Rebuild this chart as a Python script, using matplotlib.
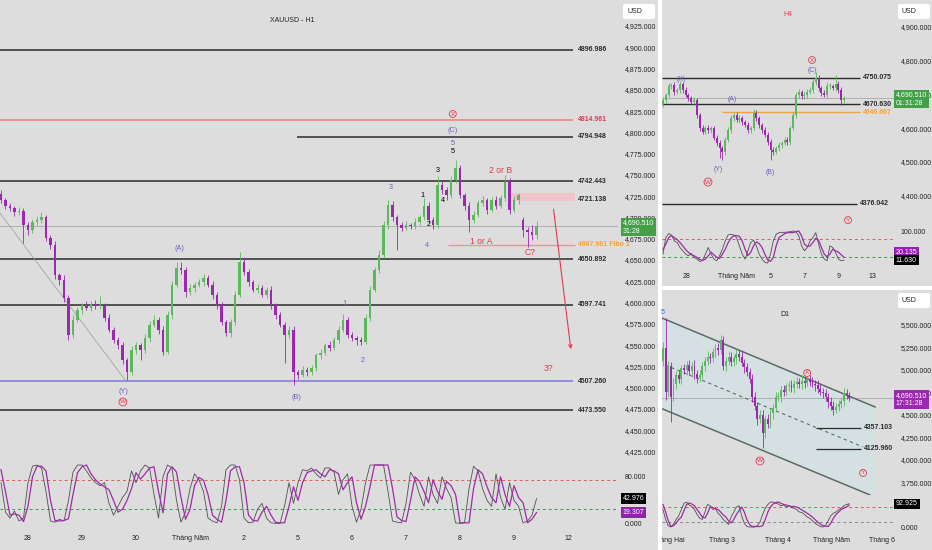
import numpy as np
import matplotlib
matplotlib.use("Agg")
import matplotlib.pyplot as plt
from matplotlib.patches import Rectangle, FancyBboxPatch
from matplotlib.transforms import (blended_transform_factory, Bbox, TransformedBbox,
                                   ScaledTranslation)
from matplotlib.ticker import FuncFormatter

plt.rcParams['font.family'] = ['Liberation Sans', 'DejaVu Sans']

# ---------------- data: H1 (main) ----------------
h1_open0 = 4728
h1_close = np.array([
    4720, 4714, 4711, 4706, 4708, 4691, 4685, 4695, 4697, 4700,
    4676, 4668, 4632, 4627, 4605, 4562, 4580, 4591, 4597, 4594,
    4598, 4596, 4597, 4582, 4568, 4556, 4550, 4532, 4518, 4544,
    4550, 4544, 4558, 4574, 4580, 4568, 4542, 4585, 4621, 4641,
    4638, 4612, 4617, 4621, 4624, 4629, 4621, 4609, 4597, 4577,
    4564, 4577, 4609, 4648, 4636, 4624, 4615, 4617, 4609, 4615,
    4597, 4585, 4574, 4562, 4568, 4518, 4515, 4521, 4518, 4523,
    4538, 4541, 4550, 4547, 4556, 4568, 4580, 4562, 4558, 4556,
    4554, 4582, 4615, 4638, 4656, 4691, 4715, 4700, 4691, 4688,
    4691, 4690, 4695, 4700, 4714, 4697, 4691, 4738, 4732, 4726,
    4744, 4758, 4726, 4714, 4697, 4703, 4717, 4720, 4709, 4720,
    4714, 4723, 4742, 4709, 4720, 4726, 4685, 4683, 4679, 4690.51])
h1_wick_up = np.array([
    4, 3, 3, 2, 4, 3, 4, 3, 5, 6, 3, 3, 4, 3, 5, 4, 5, 4, 3, 5,
    4, 5, 11, 3, 4, 3, 3, 4, 3, 5, 4, 3, 5, 4, 5, 3, 4, 5, 4, 7,
    7, 4, 5, 3, 4, 5, 3, 4, 3, 4, 3, 4, 5, 11, 5, 4, 3, 5, 4, 3,
    4, 3, 4, 3, 5, 4, 3, 4, 3, 4, 3, 4, 3, 5, 4, 5, 7, 3, 4, 3,
    3, 4, 5, 4, 6, 5, 5, 4, 3, 4, 5, 3, 4, 3, 9, 4, 3, 11, 5, 4,
    5, 10, 4, 3, 4, 5, 4, 5, 3, 4, 5, 4, 8, 4, 5, 3, 3, 4, 8, 5])
h1_wick_dn = np.array([
    3, 4, 3, 4, 3, 21, 5, 3, 4, 3, 4, 5, 4, 6, 4, 6, 4, 3, 4, 3,
    4, 3, 3, 4, 3, 4, 5, 4, 9, 3, 4, 12, 3, 4, 3, 5, 4, 3, 4, 3,
    4, 5, 3, 4, 3, 4, 3, 5, 4, 3, 3, 4, 3, 3, 4, 5, 3, 4, 3, 4,
    5, 4, 3, 33, 4, 15, 5, 3, 4, 3, 3, 4, 3, 4, 3, 4, 3, 4, 3, 6,
    4, 3, 4, 3, 3, 4, 5, 4, 29, 4, 3, 4, 3, 4, 3, 4, 5, 3, 4, 5,
    3, 4, 3, 5, 14, 4, 3, 4, 5, 3, 4, 3, 4, 5, 3, 4, 8, 18, 6, 4])
h1_gap_open = {116: 4697}
h1_stoch_k = [
    70, 20, 10, 22, 5, 10, 70, 98, 100, 95, 55, 5, 3, 8, 5, 40, 88, 100, 100, 90,
    78, 70, 65, 70, 35, 15, 30, 45, 55, 90, 70, 90, 100, 95, 50, 10, 80, 100, 95, 40,
    3, 20, 60, 85, 75, 55, 10, 5, 2, 30, 92, 100, 100, 75, 10, 2, 3, 25, 35, 10,
    2, 1, 1, 30, 70, 35, 70, 92, 90, 95, 85, 78, 95, 95, 88, 50, 75, 85, 30, 3,
    25, 70, 100, 100, 100, 100, 55, 5, 3, 2, 35, 88, 75, 50, 30, 80, 50, 35, 80, 60,
    45, 2, 1, 2, 60, 98, 90, 60, 40, 30, 85, 45, 25, 70, 40, 30, 2, 5, 15, 42.976]
h1_stoch_d = [
    92, 55, 15, 17, 15, 4, 30, 80, 98, 98, 90, 40, 6, 5, 6, 9, 50, 87, 97, 100,
    85, 75, 68, 63, 58, 40, 20, 25, 40, 60, 87, 76, 85, 95, 97, 55, 19, 85, 97, 88,
    45, 8, 25, 65, 79, 74, 50, 15, 8, 3, 40, 90, 97, 97, 70, 15, 6, 5, 20, 30,
    15, 3, 2, 2, 30, 63, 40, 70, 87, 90, 92, 85, 80, 92, 90, 85, 58, 70, 80, 36,
    8, 30, 63, 100, 100, 100, 100, 60, 12, 6, 4, 40, 80, 72, 55, 36, 75, 55, 42, 72,
    65, 50, 2, 2, 2, 60, 92, 85, 63, 45, 36, 80, 50, 30, 65, 45, 36, 2, 8, 19.307]
h1_day_pos = [6, 18, 30, 42, 54, 66, 78, 90, 102, 114, 126]
h1_day_lbl = ['28', '29', '30', 'Tháng Năm', '2', '5', '6', '7', '8', '9', '12']
h1_levels = [4896.986, 4814.961, 4794.948, 4742.443, 4650.892, 4597.741, 4507.260, 4473.550]
h1_level_start = [0, 0, 66, 0, 0, 0, 0, 0]
fibo_level = 4667.981
zone_hi, zone_lo = 4729, 4719
trend_x = [-0.2, 27.6]
trend_y = [4705, 4509]
arrow_from = (122.7, 4713)
arrow_to = (126.7, 4542)

# ---------------- data: H4 ----------------
h4_open0 = 4670
h4_close = np.array([
    4683, 4698, 4725, 4728, 4707, 4713, 4731, 4713, 4698, 4689,
    4677, 4683, 4639, 4600, 4589, 4600, 4594, 4600, 4571, 4556,
    4541, 4529, 4565, 4594, 4630, 4639, 4624, 4630, 4618, 4609,
    4594, 4600, 4645, 4630, 4609, 4594, 4580, 4559, 4535, 4529,
    4541, 4550, 4556, 4565, 4559, 4600, 4639, 4698, 4707, 4695,
    4698, 4707, 4713, 4737, 4749, 4719, 4704, 4698, 4725, 4725,
    4719, 4731, 4713, 4683, 4690.51])
h4_wick_up = np.array([
    8, 6, 10, 6, 8, 7, 9, 6, 8, 7, 6, 8, 7, 6, 9, 7, 8, 6, 7, 9,
    8, 7, 9, 8, 10, 7, 8, 9, 6, 7, 8, 7, 12, 8, 7, 6, 8, 7, 9, 8,
    7, 8, 6, 9, 8, 7, 8, 10, 8, 7, 9, 8, 10, 9, 17, 8, 7, 9, 12, 8,
    7, 26, 8, 10, 6])
h4_wick_dn = np.array([
    7, 8, 6, 9, 8, 7, 8, 9, 6, 8, 7, 9, 8, 10, 8, 7, 9, 8, 7, 8,
    30, 24, 8, 7, 9, 8, 7, 8, 9, 7, 8, 9, 7, 8, 9, 8, 7, 9, 30, 8,
    7, 9, 8, 7, 9, 8, 7, 9, 8, 10, 8, 9, 7, 8, 9, 10, 8, 7, 9, 8,
    7, 8, 9, 14, 8])
h4_stoch_k = [
    30, 80, 92, 88, 70, 65, 50, 40, 30, 25, 32, 20, 15, 8, 10, 30, 50, 30, 15, 10,
    25, 45, 70, 88, 90, 88, 80, 55, 30, 15, 40, 65, 72, 55, 30, 15, 5, 3, 30, 70,
    90, 95, 96, 96, 97, 98, 100, 98, 85, 55, 40, 50, 70, 80, 95, 60, 30, 15, 10, 55,
    50, 35, 15, 10, 11.63]
h4_stoch_d = [
    44, 60, 80, 86, 80, 74, 65, 55, 44, 35, 28, 25, 20, 14, 11, 15, 25, 36, 28, 20,
    17, 30, 45, 64, 78, 86, 86, 84, 70, 45, 25, 35, 55, 67, 62, 50, 30, 12, 8, 20,
    55, 80, 86, 92, 95, 95, 95, 98, 100, 85, 60, 53, 55, 65, 78, 72, 50, 30, 22, 30,
    45, 40, 36, 28, 20.135]
h4_day_pos = [8.5, 26, 38, 50, 62, 74]
h4_day_lbl = ['28', 'Tháng Năm', '5', '7', '9', '13']
h4_levels = [4750.075, 4670.630, 4376.042]
h4_level_end = [69.6, 69.6, 68.6]
h4_fibo = 4646.667

# ---------------- data: D1 ----------------
d1_open0 = 5100
d1_close = np.array([
    5250, 4750, 5050, 4700, 4850, 4950, 4900, 5020, 5000, 5060,
    4990, 5050, 4960, 4910, 4950, 5050, 5100, 5150, 5130, 5200,
    5250, 5220, 5330, 5050, 5100, 5150, 5090, 5130, 5180, 5150,
    5080, 5030, 4980, 4900, 4700, 4600, 4450, 4500, 4300, 4450,
    4400, 4520, 4580, 4700, 4700, 4780, 4760, 4820, 4830, 4800,
    4850, 4870, 4840, 4880, 4860, 4900, 4870, 4850, 4830, 4790,
    4760, 4740, 4700, 4640, 4600, 4560, 4590, 4620, 4650, 4740,
    4720, 4690.51])
d1_wick_up = np.array([
    60, 330, 50, 40, 60, 40, 50, 40, 50, 40, 50, 40, 60, 40, 50, 40, 50, 60, 40, 50,
    40, 50, 60, 50, 40, 60, 50, 40, 50, 40, 60, 40, 50, 40, 60, 50, 40, 60, 50, 40,
    60, 50, 40, 50, 60, 40, 50, 40, 50, 60, 40, 50, 40, 60, 50, 30, 40, 50, 40, 60,
    50, 40, 50, 40, 60, 50, 40, 50, 40, 60, 50, 30])
d1_wick_dn = np.array([
    50, 80, 40, 280, 50, 60, 40, 50, 40, 60, 50, 40, 60, 50, 40, 50, 60, 40, 50, 40,
    60, 50, 40, 50, 60, 40, 50, 40, 60, 50, 40, 60, 50, 40, 60, 50, 60, 40, 167, 60,
    50, 40, 60, 50, 40, 60, 50, 40, 50, 40, 60, 50, 40, 50, 60, 40, 50, 40, 60, 50,
    40, 50, 40, 60, 50, 60, 40, 50, 40, 50, 40, 40])
d1_stoch_k = [
    70, 30, 5, 0, 12, 30, 45, 70, 95, 100, 88, 82, 70, 50, 35, 30, 60, 90, 85, 70,
    75, 55, 45, 30, 20, 10, 40, 60, 80, 85, 45, 15, 2, 0, 0, 0, 5, 20, 50, 75,
    90, 100, 100, 95, 92, 85, 88, 80, 85, 78, 75, 70, 60, 58, 50, 40, 35, 25, 15, 8,
    2, 0, 5, 25, 45, 55, 60, 70, 75, 85, 90, 92.925]
d1_stoch_d = [
    90, 60, 25, 2, 5, 15, 30, 40, 65, 90, 96, 92, 85, 70, 55, 40, 36, 55, 80, 78,
    72, 70, 60, 48, 40, 25, 16, 30, 50, 65, 80, 60, 30, 10, 2, 2, 2, 2, 5, 30,
    60, 80, 92, 98, 100, 95, 90, 88, 85, 82, 82, 80, 75, 68, 62, 55, 48, 40, 30, 20,
    12, 6, 3, 2, 15, 35, 50, 60, 70, 75, 80, 88]
d1_month_pos = [1.9, 22.5, 43.9, 64.1, 83.6]
d1_month_lbl = ['Tháng Hai', 'Tháng 3', 'Tháng 4', 'Tháng Năm', 'Tháng 6']
chan_upper_x, chan_upper_y = [-0.4, 80.9], [5578, 4589]
chan_lower_x, chan_lower_y = [-0.4, 79.0], [4570, 3611]
chan_mid_x, chan_mid_y = [0.8, 76.3], [5056, 4145]
d1_levels = [4357.103, 4125.960]

LAST = 4690.51

# ---------------- styling ----------------
W, H = 932, 550
BG = '#dddddd'
UP = '#5cb85c'
DOWN = '#9c27b0'
RED = '#e53950'
WAVE = '#6a5fc1'
ORANGE = '#f5a340'
DARK = '#2b2b2b'

fig = plt.figure(figsize=(W / 100, H / 100), dpi=100, facecolor='white')


def panel(l, t, r, b):
    fig.patches.append(Rectangle((l / W, 1 - b / H), (r - l) / W, (b - t) / H,
                                 transform=fig.transFigure, facecolor=BG,
                                 edgecolor='none', zorder=-10))


def px_axes(l, t, r, b):
    ax = fig.add_axes([l / W, 1 - b / H, (r - l) / W, (b - t) / H])
    ax.set_facecolor('none')
    for s in ax.spines.values():
        s.set_visible(False)
    ax.yaxis.tick_right()
    ax.tick_params(length=0, labelsize=5, colors='#222222')
    return ax


def ftxt(x, y, s, **kw):
    fig.text(x / W, 1 - y / H, s, **kw)


def candles(ax, closes, open0, wu, wd, width, gaps=None):
    x = np.arange(len(closes))
    opens = np.concatenate([[open0], closes[:-1]]).astype(float)
    if gaps:
        for k, v in gaps.items():
            opens[k] = v
    highs = np.maximum(opens, closes) + wu
    lows = np.minimum(opens, closes) - wd
    cols = np.where(closes >= opens, UP, DOWN)
    ax.vlines(x, lows, highs, colors=cols, lw=0.6, zorder=3)
    span = ax.get_ylim()[1] - ax.get_ylim()[0]
    hgt = np.maximum(np.abs(closes - opens), span * 0.003)
    ax.bar(x, hgt, bottom=np.minimum(opens, closes), width=width, color=cols,
           linewidth=0, zorder=4)


def stoch(ax, k, d, lv_hi, lv_lo, lo_col):
    x = np.arange(len(k))
    ax.axhline(lv_hi, color='#e05a5a', lw=0.7, ls=(0, (3, 3)))
    ax.axhline(lv_lo, color=lo_col, lw=0.7, ls=(0, (3, 3)))
    ax.plot(x, k, color='#505050', lw=0.6, zorder=3)
    ax.plot(x, d, color='#a02aa8', lw=0.9, zorder=4)


def circled(ax, x, y, s):
    ax.text(x, y, s, color=RED, fontsize=4.6, ha='center', va='center', zorder=6,
            bbox=dict(boxstyle='circle,pad=0.15', fc='none', ec=RED, lw=0.6))


def side_box(ax, y, s, fc, xfrac, tc='white', fs=5, two_line=False):
    tr = blended_transform_factory(ax.transAxes, ax.transData)
    va = 'center'
    if two_line:
        # first line of a two-line price tag sits on the price
        tr = tr + ScaledTranslation(0, 4.5 / 72, fig.dpi_scale_trans)
        va = 'top'
    ax.text(xfrac, y, s, transform=tr, ha='left', va=va, color=tc, fontsize=fs,
            clip_on=False, zorder=10, linespacing=1.25,
            bbox=dict(boxstyle='square,pad=0.25', fc=fc, ec='none'))


def usd(l, t, r, b):
    fig.patches.append(FancyBboxPatch((l / W, 1 - b / H), (r - l) / W, (b - t) / H,
                                      boxstyle='round,pad=0,rounding_size=0.003',
                                      transform=fig.transFigure, fc='white', ec='none',
                                      zorder=5))
    ftxt(l + 4, (t + b) / 2, 'USD', fontsize=5, ha='left', va='center', color='#222222',
         zorder=6)


price_fmt = FuncFormatter(lambda v, p: f'{v:,.3f}')

panel(0, 0, 658, 550)
panel(662, 0, 932, 286)
panel(662, 290, 932, 550)

# ================= main H1 =================
ax = px_axes(0, 0, 618, 460)
ax.set_xlim(-0.22, 137.1)
ax.set_ylim(4415, 4955.6)
ax.set_yticks(np.arange(4425, 4926, 25))
ax.yaxis.set_major_formatter(price_fmt)
ax.tick_params(axis='y', pad=5)
ax.set_xticks([])
ax.axhline(LAST, color='#a8a8a8', lw=0.6, zorder=1)
for lv, st in zip(h1_levels, h1_level_start):
    col = DARK
    if lv == 4814.961:
        col = '#ef7d7d'
    elif lv == 4507.260:
        col = '#7c76d6'
    ax.hlines(lv, st - 0.3, 127.2, color=col, lw=1.1, zorder=2)
    ax.text(128.2, lv, f'{lv:.3f}', fontsize=5, fontweight='bold',
            color=RED if lv == 4814.961 else DARK, va='center', ha='left')
ax.hlines(fibo_level, 99.3, 127.5, color=ORANGE, lw=1.0, zorder=2)
ax.text(128.2, fibo_level, f'{fibo_level:.3f} Fibo 1', fontsize=5, fontweight='bold',
        color=ORANGE, va='center', ha='left')
ax.add_patch(Rectangle((113.6, zone_lo), 14, zone_hi - zone_lo, fc='#f0c2c6', ec='none',
                       alpha=0.9, zorder=2))
ax.text(128.2, 4721.138, '4721.138', fontsize=5, fontweight='bold', color=DARK,
        va='center', ha='left')
ax.plot(trend_x, trend_y, color='#9a9a9a', lw=0.5, zorder=2)
candles(ax, h1_close, h1_open0, h1_wick_up, h1_wick_dn, 0.6, h1_gap_open)
ax.annotate('', xy=arrow_to, xytext=arrow_from, zorder=5,
            arrowprops=dict(arrowstyle='->', color=RED, lw=0.8, mutation_scale=6))

wave_txt = [
    (100.4, 4802.8, '(C)', WAVE), (100.4, 4787.5, '5', WAVE), (100.4, 4777, '5', 'black'),
    (97.1, 4755.8, '3', 'black'), (86.7, 4734.7, '3', WAVE), (93.6, 4726.4, '1', 'black'),
    (95.1, 4691.2, '2', 'black'), (98.2, 4719.4, '4', 'black'), (94.7, 4666.5, '4', WAVE),
    (39.6, 4663, '(A)', WAVE), (27.1, 4495, '(Y)', WAVE), (65.6, 4489, '(B)', WAVE),
    (76.4, 4598.4, '1', WAVE), (80.4, 4532.5, '2', WAVE)]
for x, y, s, c in wave_txt:
    ax.text(x, y, s, color=c, fontsize=5.2, ha='center', va='center', zorder=6)
for x, y, s in [(111.1, 4755.8, '2 or B'), (106.7, 4671.2, '1 or A'),
                (117.6, 4658.3, 'C?'), (121.6, 4523, '3?')]:
    ax.text(x, y, s, color=RED, fontsize=6.2, ha='center', va='center', zorder=6)
circled(ax, 100.4, 4821.6, 'X')
circled(ax, 27.1, 4483.2, 'W')
side_box(ax, LAST, '4,690.510\n31:28', '#43a047', 1.008, two_line=True)
ftxt(292, 20, 'XAUUSD - H1', fontsize=5, ha='center', va='center', color='#222222')
usd(623, 4, 655, 19)

axs = px_axes(0, 460, 618, 532)
axs.set_xlim(-0.22, 137.1)
axs.set_ylim(-13.6, 108.5)
stoch(axs, h1_stoch_k, h1_stoch_d, 75, 25, '#3e9a52')
axs.set_yticks([80, 0])
axs.yaxis.set_major_formatter(FuncFormatter(lambda v, p: f'{v:.3f}'))
axs.tick_params(axis='y', pad=5)
axs.set_xticks(h1_day_pos)
axs.set_xticklabels(h1_day_lbl)
axs.tick_params(axis='x', pad=2.5, labelsize=5)
side_box(axs, h1_stoch_k[-1], f'{h1_stoch_k[-1]:.3f}', 'black', 1.008)
side_box(axs, h1_stoch_d[-1], f'{h1_stoch_d[-1]:.3f}', '#8e24aa', 1.008)

# ================= H4 =================
a4 = px_axes(662, 0, 895, 225)
a4.set_xlim(-0.35, 82.0)
a4.set_ylim(4312.5, 4980)
a4.set_yticks([4400, 4500, 4600, 4700, 4800, 4900])
a4.yaxis.set_major_formatter(price_fmt)
a4.tick_params(axis='y', pad=4)
a4.set_xticks([])
a4.axhline(LAST, color='#a8a8a8', lw=0.6, zorder=1)
for lv, en in zip(h4_levels, h4_level_end):
    a4.hlines(lv, -0.35, en, color=DARK, lw=1.0, zorder=2)
    a4.text(en + 1.0, lv, f'{lv:.3f}', fontsize=5, fontweight='bold', color=DARK,
            va='center', ha='left')
a4.hlines(h4_fibo, 20.8, 69.6, color=ORANGE, lw=1.0, zorder=2)
a4.text(70.6, h4_fibo, f'{h4_fibo:.3f}', fontsize=5, fontweight='bold', color=ORANGE,
        va='center', ha='left')
candles(a4, h4_close, h4_open0, h4_wick_up, h4_wick_dn, 0.7)
for x, y, s in [(52.7, 4769.5, '(C)'), (6.4, 4742.7, '(X)'), (24.4, 4683.4, '(A)'),
                (19.4, 4475.7, '(Y)'), (37.8, 4466.8, '(B)')]:
    a4.text(x, y, s, color=WAVE, fontsize=5, ha='center', va='center', zorder=6)
circled(a4, 52.7, 4802, 'X')
circled(a4, 15.9, 4440, 'W')
circled(a4, 65.4, 4327, 'Y')
side_box(a4, LAST, '4,690.510\n01:31:28', '#43a047', 1.004, two_line=True)
ftxt(788, 15, 'H4', fontsize=5, ha='center', va='center', color=RED)
usd(898, 4, 930, 19)

a4s = px_axes(662, 225, 895, 272)
a4s.set_xlim(-0.35, 82.0)
a4s.set_ylim(-24.2, 118.2)
stoch(a4s, h4_stoch_k, h4_stoch_d, 75, 20, '#3e9a52')
a4s.set_yticks([100])
a4s.yaxis.set_major_formatter(FuncFormatter(lambda v, p: f'{v:.3f}'))
a4s.tick_params(axis='y', pad=4)
a4s.set_xticks(h4_day_pos)
a4s.set_xticklabels(h4_day_lbl)
a4s.tick_params(axis='x', pad=1, labelsize=5)
side_box(a4s, 36, f'{h4_stoch_d[-1]:.3f}', '#8e24aa', 1.004)
side_box(a4s, h4_stoch_k[-1], f'{h4_stoch_k[-1]:.3f}', 'black', 1.004)

# ================= D1 =================
a1 = px_axes(662, 290, 895, 495)
a1.set_xlim(-0.38, 88.5)
a1.set_ylim(3611, 5889)
a1.set_yticks(np.arange(3750, 5501, 250))
a1.yaxis.set_major_formatter(price_fmt)
a1.tick_params(axis='y', pad=4)
a1.set_xticks([])
a1.fill_between(chan_upper_x, chan_upper_y,
                np.interp(chan_upper_x, chan_lower_x, chan_lower_y,
                          left=chan_lower_y[0], right=chan_lower_y[1]),
                color='#d3e1e4', alpha=0.8, lw=0, zorder=1)
a1.axhline(LAST, color='#a8a8a8', lw=0.6, zorder=1)
a1.plot(chan_upper_x, chan_upper_y, color='#5b6b67', lw=1.1, zorder=2)
a1.plot(chan_lower_x, chan_lower_y, color='#5b6b67', lw=1.1, zorder=2)
a1.plot(chan_mid_x, chan_mid_y, color='#5b6b67', lw=0.8, ls=(0, (3, 3)), zorder=2)
for lv in d1_levels:
    a1.hlines(lv, 58.4, 75.6, color=DARK, lw=0.9, zorder=2)
    a1.text(76.7, lv, f'{lv:.3f}', fontsize=5, fontweight='bold', color=DARK,
            va='center', ha='left')
candles(a1, d1_close, d1_open0, d1_wick_up, d1_wick_dn, 0.7)
a1.text(-0.2, 5644, '5', color='#2962ff', fontsize=5, ha='center', va='center')
circled(a1, 55, 4967, 'X')
circled(a1, 37, 3989, 'W')
circled(a1, 76.3, 3856, 'Y')
side_box(a1, LAST, '4,690.510\n17:31:28', '#9c27b0', 1.004, two_line=True)
ftxt(785, 315, 'D1', fontsize=5, ha='center', va='center', color='#222222')
usd(898, 293, 930, 308)

a1s = px_axes(662, 495, 895, 533)
a1s.set_xlim(-0.38, 88.5)
a1s.set_ylim(-24, 128)
stoch(a1s, d1_stoch_k, d1_stoch_d, 80, 20, '#8a8a8a')
a1s.set_yticks([0])
a1s.yaxis.set_major_formatter(FuncFormatter(lambda v, p: f'{v:.3f}'))
a1s.tick_params(axis='y', pad=4)
a1s.set_xticks(d1_month_pos)
a1s.set_xticklabels(d1_month_lbl)
a1s.tick_params(axis='x', pad=3, labelsize=5)
clip = TransformedBbox(Bbox([[662 / W, 0], [895 / W, 1]]), fig.transFigure)
for lbl in a1s.get_xticklabels():
    lbl.set_clip_box(clip)
    lbl.set_clip_on(True)
side_box(a1s, d1_stoch_k[-1], f'{d1_stoch_k[-1]:.3f}', 'black', 1.004)

fig.savefig('out.png', dpi=100, facecolor='white')
